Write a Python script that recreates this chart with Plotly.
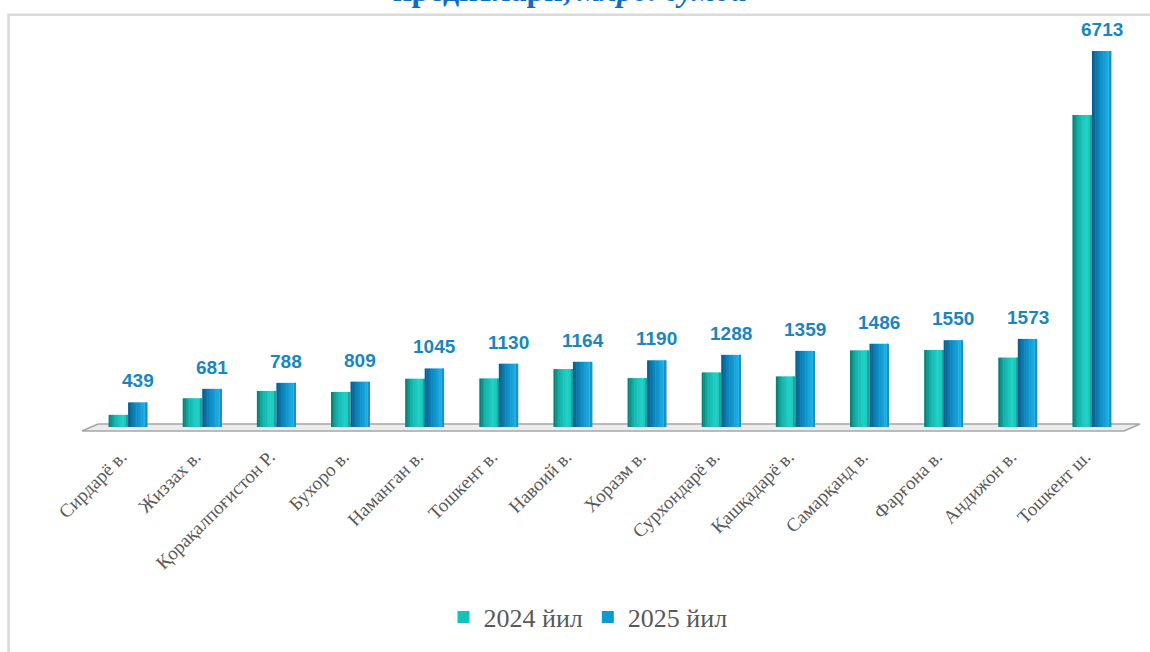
import plotly.graph_objects as go

# Regions and credit volumes (млрд. сўм)
regions = ["Сирдарё в.", "Жиззах в.", "Қорақалпоғистон Р.", "Бухоро в.", "Наманган в.",
           "Тошкент в.", "Навоий в.", "Хоразм в.", "Сурхондарё в.", "Қашқадарё в.",
           "Самарқанд в.", "Фарғона в.", "Андижон в.", "Тошкент ш."]
values_2024 = [217, 513, 644, 626, 862, 867, 1034, 874, 974, 903, 1368, 1375, 1239, 5570]
values_2025 = [439, 681, 788, 809, 1045, 1130, 1164, 1190, 1288, 1359, 1486, 1550, 1573, 6713]
series_names = ["2024 йил", "2025 йил"]

# Canvas / plot geometry (pixels)
W_PX, H_PX = 1150, 652
M_L, M_R, M_T, M_B = 91, 21, 35, 221
PLOT_W = W_PX - M_L - M_R
PLOT_H = H_PX - M_T - M_B
Y_MAX = 7000


def px_x(px):
    return (px - M_L) / PLOT_W


def px_y(py):
    return (H_PX - M_B - py) / PLOT_H


def hex_to_rgb(h):
    h = h.lstrip("#")
    return tuple(int(h[i:i + 2], 16) for i in (0, 2, 4))


def shade(stops, t):
    # linear interpolation across colour stops [(pos, hex), ...]
    for (p0, c0), (p1, c1) in zip(stops, stops[1:]):
        if p0 <= t <= p1:
            f = (t - p0) / (p1 - p0) if p1 > p0 else 0
            a, b = hex_to_rgb(c0), hex_to_rgb(c1)
            return "rgb(%d,%d,%d)" % tuple(round(a[i] + (b[i] - a[i]) * f) for i in range(3))
    return stops[-1][1]


teal_stops = [(0.0, "#0b7770"), (0.3, "#14b2a9"), (0.7, "#1fd2c8"), (0.9, "#1ac4ba"), (1.0, "#11968f")]
blue_stops = [(0.0, "#0a5a86"), (0.35, "#0b86be"), (0.75, "#19a6de"), (0.9, "#25b5e8"), (1.0, "#0c7caf")]
legend_colors = ["#13c2b8", "#0a9ad3"]

BAR_W = 0.263      # width of one cylinder in category units
N_STRIPS = 12

fig = go.Figure()

for s, (vals, stops) in enumerate([(values_2024, teal_stops), (values_2025, blue_stops)]):
    base_off = -BAR_W if s == 0 else 0.0
    sw = BAR_W / N_STRIPS
    for k in range(N_STRIPS):
        t = (k + 0.5) / N_STRIPS
        w = sw * 1.35 if k < N_STRIPS - 1 else sw
        fig.add_trace(go.Bar(
            x=regions, y=vals, width=w, offset=base_off + k * sw,
            marker=dict(color=shade(stops, t), line=dict(width=0)),
            showlegend=False, hoverinfo="skip",
        ))

# legend entries
for name, col in zip(series_names, legend_colors):
    fig.add_trace(go.Scatter(
        x=[None], y=[None], mode="markers", name=name,
        marker=dict(symbol="square", size=12, color=col),
    ))

# value labels above 2025 bars
annotations = []
for i, v in enumerate(values_2025):
    annotations.append(dict(
        x=i + BAR_W / 2, y=v, xref="x", yref="y", text=str(v),
        showarrow=False, yanchor="bottom", yshift=9,
        font=dict(family="Liberation Sans", size=19, color="#1a86c0", weight="bold"),
    ))

# title line (partly above the canvas)
annotations.append(dict(
    x=px_x(570), y=px_y(10), xref="paper", yref="paper",
    text="<b>кредитлари,</b> <b><i>млрд. сўмда</i></b>",
    showarrow=False, xanchor="center", yanchor="bottom",
    font=dict(family="Liberation Serif", size=32, color="#0e6fc0"),
))

shapes = [
    # chart frame
    dict(type="rect", xref="paper", yref="paper",
         x0=px_x(8.5), x1=px_x(1170), y0=px_y(680), y1=px_y(14.5),
         line=dict(color="#d9d9d9", width=2.5), fillcolor="rgba(0,0,0,0)", layer="below"),
    # 3D floor
    dict(type="path", xref="paper", yref="paper",
         path="M %f,%f L %f,%f L %f,%f L %f,%f Z" % (
             px_x(82), px_y(435), px_x(1124), px_y(435),
             px_x(1140), px_y(428), px_x(98), px_y(428)),
         fillcolor="#ececec", line=dict(color="#a6a6a6", width=1.5), layer="below"),
]

fig.update_layout(
    width=W_PX, height=H_PX,
    margin=dict(l=M_L, r=M_R, t=M_T, b=M_B, pad=0),
    paper_bgcolor="white", plot_bgcolor="rgba(0,0,0,0)",
    barmode="overlay",
    xaxis=dict(
        type="category", categoryorder="array", categoryarray=regions,
        range=[-0.5, len(regions) - 0.5],
        showgrid=False, zeroline=False, showline=False,
        tickangle=-45, ticks="", ticklabelstandoff=14, ticklabelshift=-7,
        tickfont=dict(family="Liberation Serif", size=19, color="#595959"),
    ),
    yaxis=dict(range=[0, Y_MAX], visible=False),
    legend=dict(
        orientation="h", x=px_x(588), xanchor="center", y=px_y(623), yanchor="middle",
        font=dict(family="Liberation Serif", size=26, color="#595959"),
        bgcolor="rgba(0,0,0,0)",
    ),
    annotations=annotations,
    shapes=shapes,
)

fig.write_html("out.html")
